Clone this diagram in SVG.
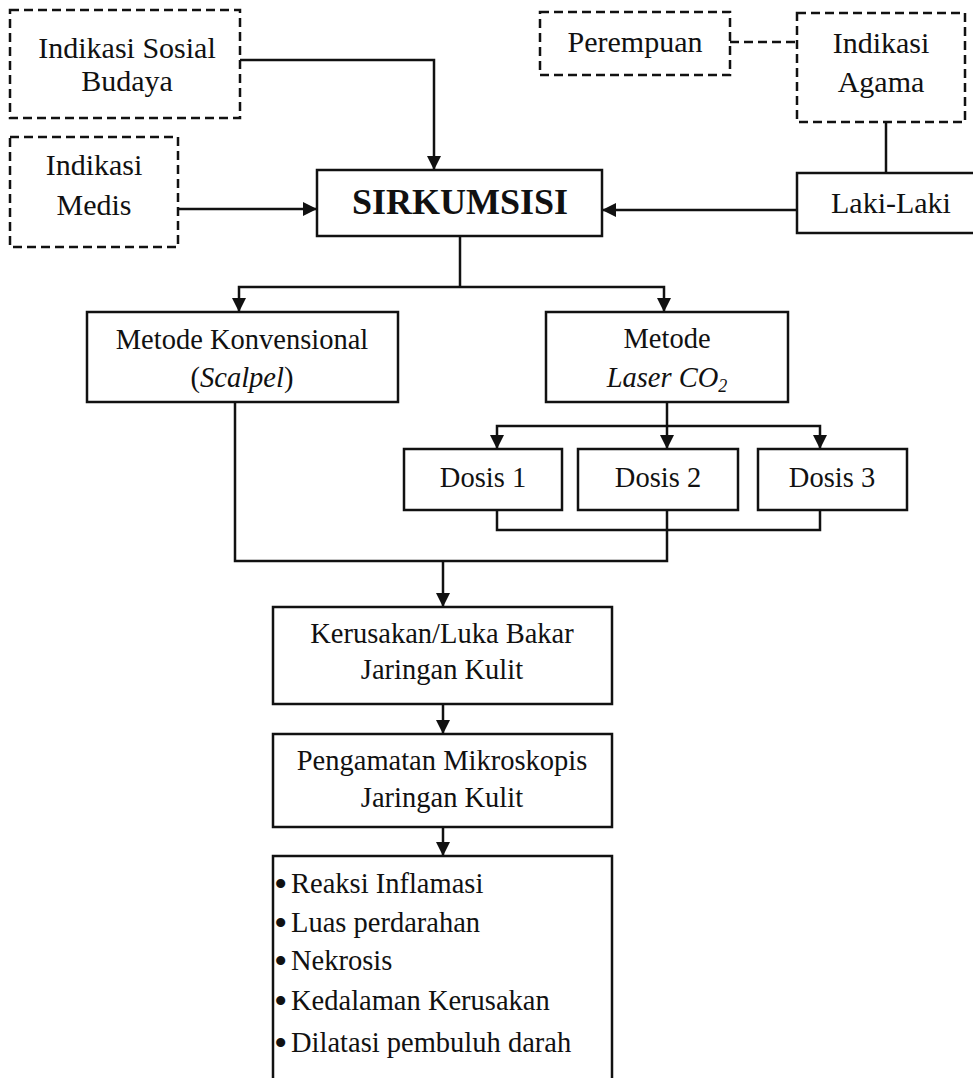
<svg xmlns="http://www.w3.org/2000/svg" width="973" height="1078" viewBox="0 0 973 1078">
<style>
.box{fill:#fff;stroke:#111;stroke-width:2.5}
.dash{fill:#fff;stroke:#111;stroke-width:2.5;stroke-dasharray:9 5}
.ln{fill:none;stroke:#111;stroke-width:2.5}
.dl{fill:none;stroke:#111;stroke-width:2.5;stroke-dasharray:9 5}
text{font-family:"Liberation Serif","Times New Roman",serif;font-size:28.5px;fill:#111;text-anchor:middle}
.big{font-size:30px}
.b{font-weight:bold;font-size:36px}
.l{text-anchor:start}
.bu{font-size:38px}
</style>
<defs>
<marker id="ah" markerUnits="userSpaceOnUse" markerWidth="14" markerHeight="16" viewBox="0 0 14 16" refX="14" refY="8" orient="auto">
<path d="M0,1 L14,8 L0,15 Z" fill="#111"/>
</marker>
</defs>
<rect width="973" height="1078" fill="#fff"/>
<g id="connectors">
<path class="ln" d="M240,60 H434 V170" marker-end="url(#ah)"/>
<path class="ln" d="M178,209 H317" marker-end="url(#ah)"/>
<path class="ln" d="M797,210 H602" marker-end="url(#ah)"/>
<path class="ln" d="M886,122 V173"/>
<path class="dl" d="M730,42 H797"/>
<path class="ln" d="M460,236 V287"/>
<path class="ln" d="M460,287 H239 V312" marker-end="url(#ah)"/>
<path class="ln" d="M460,287 H664 V312" marker-end="url(#ah)"/>
<path class="ln" d="M667,402 V449" marker-end="url(#ah)"/>
<path class="ln" d="M667,426 H497 V449" marker-end="url(#ah)"/>
<path class="ln" d="M667,426 H820 V449" marker-end="url(#ah)"/>
<path class="ln" d="M497,510 V530 H820 V510"/>
<path class="ln" d="M667,510 V561 H235 V402"/>
<path class="ln" d="M443,561 V607" marker-end="url(#ah)"/>
<path class="ln" d="M443,704 V734" marker-end="url(#ah)"/>
<path class="ln" d="M443,827 V856" marker-end="url(#ah)"/>
</g>
<g id="sosial">
<rect class="dash" x="10" y="10" width="230" height="108"/>
<text class="big" x="127" y="58">Indikasi Sosial</text>
<text class="big" x="127" y="91">Budaya</text>
</g>
<g id="medis">
<rect class="dash" x="10" y="137" width="168" height="110"/>
<text class="big" x="94" y="175">Indikasi</text>
<text class="big" x="94" y="215">Medis</text>
</g>
<g id="perempuan">
<rect class="dash" x="540" y="12" width="190" height="63"/>
<text class="big" x="635" y="52">Perempuan</text>
</g>
<g id="agama">
<rect class="dash" x="797" y="13" width="168" height="109"/>
<text class="big" x="881" y="53">Indikasi</text>
<text class="big" x="881" y="92">Agama</text>
</g>
<g id="laki">
<rect class="box" x="797" y="173" width="190" height="60"/>
<text class="big" x="891" y="213">Laki-Laki</text>
</g>
<g id="sirkumsisi">
<rect class="box" x="317" y="170" width="285" height="66"/>
<text class="b" x="460" y="214">SIRKUMSISI</text>
</g>
<g id="konvensional">
<rect class="box" x="87" y="312" width="311" height="90"/>
<text x="242" y="349">Metode Konvensional</text>
<text x="242" y="387">(<tspan font-style="italic">Scalpel</tspan>)</text>
</g>
<g id="laser">
<rect class="box" x="546" y="312" width="242" height="90"/>
<text x="667" y="348">Metode</text>
<text x="667" y="387" font-style="italic">Laser CO<tspan font-size="18px" dy="5">2</tspan></text>
</g>
<g id="dosis1">
<rect class="box" x="404" y="449" width="158" height="61"/>
<text x="483" y="487">Dosis 1</text>
</g>
<g id="dosis2">
<rect class="box" x="578" y="449" width="160" height="61"/>
<text x="658" y="487">Dosis 2</text>
</g>
<g id="dosis3">
<rect class="box" x="758" y="449" width="149" height="61"/>
<text x="832" y="487">Dosis 3</text>
</g>
<g id="kerusakan">
<rect class="box" x="273" y="607" width="339" height="97"/>
<text x="442" y="643">Kerusakan/Luka Bakar</text>
<text x="442" y="679">Jaringan Kulit</text>
</g>
<g id="pengamatan">
<rect class="box" x="273" y="734" width="339" height="93"/>
<text x="442" y="770">Pengamatan Mikroskopis</text>
<text x="442" y="807">Jaringan Kulit</text>
</g>
<g id="parameter">
<rect class="box" x="273" y="856" width="339" height="240"/>
<text class="l" y="893"><tspan class="bu" x="274" dy="4">•</tspan><tspan x="291" dy="-4">Reaksi Inflamasi</tspan></text>
<text class="l" y="932"><tspan class="bu" x="274" dy="4">•</tspan><tspan x="291" dy="-4">Luas perdarahan</tspan></text>
<text class="l" y="970"><tspan class="bu" x="274" dy="4">•</tspan><tspan x="291" dy="-4">Nekrosis</tspan></text>
<text class="l" y="1010"><tspan class="bu" x="274" dy="4">•</tspan><tspan x="291" dy="-4">Kedalaman Kerusakan</tspan></text>
<text class="l" y="1052"><tspan class="bu" x="274" dy="4">•</tspan><tspan x="291" dy="-4">Dilatasi pembuluh darah</tspan></text>
</g>
</svg>
